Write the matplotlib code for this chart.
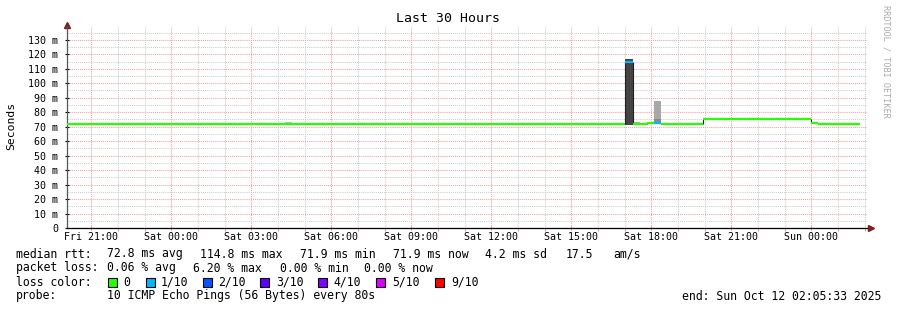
import matplotlib
matplotlib.use("Agg")
import matplotlib.pyplot as plt
import matplotlib.dates as mdates
from matplotlib.ticker import MultipleLocator, FuncFormatter
from matplotlib.patches import Rectangle
from datetime import datetime

# time window of the graph
t_start = datetime(2025, 10, 10, 20, 5, 33)
t_end = datetime(2025, 10, 12, 2, 5, 33)

# median rtt segments (ms) and packet loss (out of 10)
seg_start = ["2025-10-10 20:05", "2025-10-11 17:01", "2025-10-11 17:19", "2025-10-11 17:50",
             "2025-10-11 18:06", "2025-10-11 18:22", "2025-10-11 19:57", "2025-10-11 23:59",
             "2025-10-12 00:15"]
seg_end = ["2025-10-11 17:01", "2025-10-11 17:19", "2025-10-11 17:50", "2025-10-11 18:06",
           "2025-10-11 18:22", "2025-10-11 19:57", "2025-10-11 23:59", "2025-10-12 00:15",
           "2025-10-12 01:50"]
median_ms = [72.0, 114.8, 72.0, 72.8, 72.8, 72.0, 75.4, 72.7, 71.9]
loss = [0, 1, 0, 0, 1, 0, 0, 0, 0]

# smoke (spread of the single pings), ms
smoke_start = ["2025-10-11 04:16", "2025-10-11 17:01", "2025-10-11 17:19", "2025-10-11 18:06",
               "2025-10-11 18:06"]
smoke_end = ["2025-10-11 04:32", "2025-10-11 17:19", "2025-10-11 17:35", "2025-10-11 18:22",
             "2025-10-11 18:22"]
smoke_low = [72.3, 71.0, 72.3, 72.5, 73.0]
smoke_high = [73.3, 117.0, 73.5, 87.4, 75.6]
smoke_shade = ["#c4c4c4", "#444444", "#b4b4b4", "#a8a8a8", "#8a8a8a"]

loss_labels = ["0", "1/10", "2/10", "3/10", "4/10", "5/10", "9/10"]
loss_colors = ["#26ff00", "#00b8ff", "#0059ff", "#5e00ff", "#7e00ff", "#dd00ff", "#ff0000"]

W, H = 897, 310
fig = plt.figure(figsize=(W / 100, H / 100), dpi=100)
fig.patch.set_facecolor("white")
ax = fig.add_axes([67 / W, 82 / H, 800 / W, 202.4 / H])

mono = "DejaVu Sans Mono"


def tnum(s):
    return mdates.date2num(datetime.strptime(s, "%Y-%m-%d %H:%M"))


# smoke
for a, b, lo, hi, c in zip(smoke_start, smoke_end, smoke_low, smoke_high, smoke_shade):
    ax.fill_between([tnum(a), tnum(b)], lo, hi, color=c, lw=0, zorder=2)

# median line, coloured by loss
prev = None
for a, b, m, l in zip(seg_start, seg_end, median_ms, loss):
    x0, x1 = tnum(a), tnum(b)
    if prev is not None and abs(prev - m) > 0.5:
        ax.vlines(x0, min(prev, m), max(prev, m), color="#202020", lw=0.8, zorder=3)
    ax.hlines(m, x0, x1, color=loss_colors[l], lw=1.6, zorder=4)
    prev = m

ax.set_xlim(mdates.date2num(t_start), mdates.date2num(t_end))
ax.set_ylim(0, 139.8)

ax.xaxis.set_major_locator(mdates.HourLocator(byhour=range(0, 24, 3)))
ax.xaxis.set_minor_locator(mdates.HourLocator())
ax.xaxis.set_major_formatter(mdates.DateFormatter("%a %H:%M"))
ax.yaxis.set_major_locator(MultipleLocator(10))
ax.yaxis.set_minor_locator(MultipleLocator(5))
ax.yaxis.set_major_formatter(FuncFormatter(lambda v, p: "0" if v == 0 else f"{int(v)} m"))

ax.set_axisbelow(True)
ax.grid(which="major", color="#f2a0a0", ls=(0, (1, 1)), lw=0.75)
ax.grid(which="minor", color="#cccccc", ls=(0, (1, 1)), lw=0.75)

for s in ["top", "right"]:
    ax.spines[s].set_visible(False)
ax.spines["left"].set_color("#555555")
ax.spines["bottom"].set_color("#000000")
ax.spines["left"].set_linewidth(0.9)
ax.spines["bottom"].set_linewidth(0.9)

ax.tick_params(which="major", length=3, width=0.8, direction="inout", labelsize=7.2)
ax.tick_params(axis="x", which="major", color="#f08080", pad=1.5)
ax.tick_params(axis="x", which="minor", length=2, color="#f08080", direction="out")
ax.tick_params(axis="y", which="minor", length=0)
ax.tick_params(axis="y", pad=5)
for lab in ax.get_xticklabels() + ax.get_yticklabels():
    lab.set_fontfamily(mono)

# axis arrows
ax.plot([0], [1.005], marker="^", ms=4, color="#7f1f1f", transform=ax.transAxes, clip_on=False)
ax.plot([1.005], [0], marker=">", ms=4, color="#7f1f1f", transform=ax.transAxes, clip_on=False)

# title and labels
fig.text(448 / W, 1 - 19 / H, "Last 30 Hours", family=mono, fontsize=9.5, ha="center", va="center")
fig.text(11 / W, 1 - 126 / H, "Seconds", family=mono, fontsize=8.2, rotation=90, ha="center", va="center")
fig.text(886 / W, 1 - 5 / H, "RRDTOOL / TOBI OETIKER", family=mono, fontsize=6.1, color="#aaaaaa",
         rotation=-90, ha="center", va="top")

# legend rows
fs = 8.3


def txt(x, y, s, **kw):
    fig.text(x / W, 1 - y / H, s, family=mono, fontsize=fs, va="center", **kw)


row1 = [(16, "median rtt:"), (107, "72.8 ms avg"), (200, "114.8 ms max"), (300, "71.9 ms min"),
        (393, "71.9 ms now"), (485, "4.2 ms sd"), (566, "17.5"), (613, "am/s")]
for x, s in row1:
    txt(x, 254, s)
row2 = [(16, "packet loss:"), (107, "0.06 % avg"), (193, "6.20 % max"), (280, "0.00 % min"),
        (364, "0.00 % now")]
for x, s in row2:
    txt(x, 268, s)
txt(16, 282, "loss color:")
box_x = [108, 146, 203, 260, 318, 376, 435]
lab_x = [123, 161, 218, 276, 333, 392, 451]
for bx, lx, c, s in zip(box_x, lab_x, loss_colors, loss_labels):
    fig.patches.append(Rectangle((bx / W, 1 - 287 / H), 9 / W, 9 / H, transform=fig.transFigure,
                                 facecolor=c, edgecolor="black", lw=0.8))
    txt(lx, 282, s)
txt(16, 296, "probe:")
txt(107, 296, "10 ICMP Echo Pings (56 Bytes) every 80s")
txt(881, 296, "end: Sun Oct 12 02:05:33 2025", ha="right")

fig.savefig("out.png", dpi=100, facecolor="white")
